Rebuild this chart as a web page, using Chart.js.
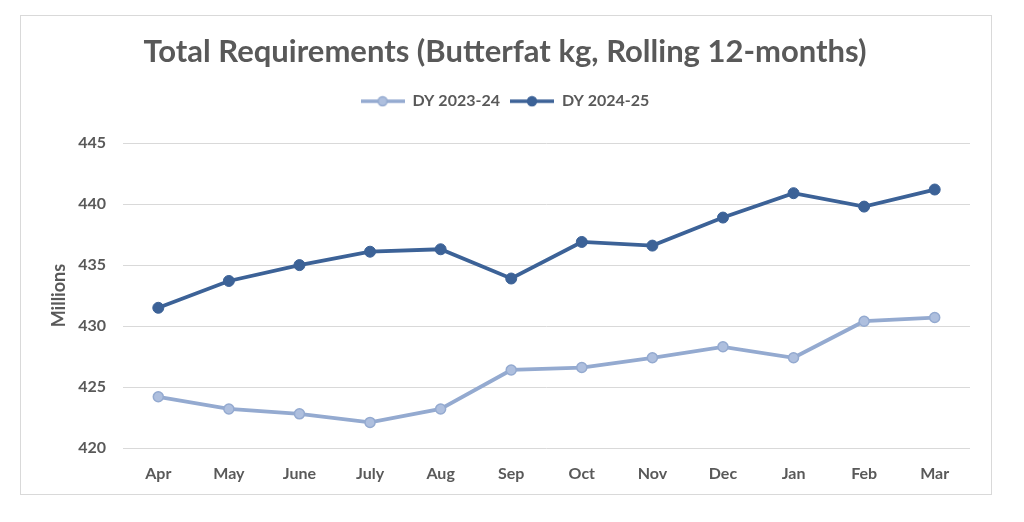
<!DOCTYPE html>
<html>
<head>
<meta charset="utf-8">
<script src="https://cdn.jsdelivr.net/npm/chart.js@4"></script>
<style>
  html, body { margin: 0; padding: 0; background: #ffffff; }
  #wrap { position: relative; width: 1024px; height: 522px; }
  #frame { position: absolute; left: 20px; top: 15px; width: 972px; height: 480px; border: 1px solid #d9d9d9; box-sizing: border-box; }
  canvas { position: absolute; left: 0; top: 0; }
</style>
</head>
<body>
<div id="wrap">
  <div id="frame"></div>
  <canvas id="c" width="1024" height="522"></canvas>
</div>
<script>
const categories = ['Apr', 'May', 'June', 'July', 'Aug', 'Sep', 'Oct', 'Nov', 'Dec', 'Jan', 'Feb', 'Mar'];
const dy2324 = [424.2, 423.2, 422.8, 422.1, 423.2, 426.4, 426.6, 427.4, 428.3, 427.4, 430.4, 430.7];
const dy2425 = [431.5, 433.7, 435.0, 436.1, 436.3, 433.9, 436.9, 436.6, 438.9, 440.9, 439.8, 441.2];
const seriesNames = ['DY 2023-24', 'DY 2024-25'];
const titleText = 'Total Requirements (Butterfat kg, Rolling 12-months)';
const yTitle = 'Millions';

const lightLine = '#94aad0';
const lightFill = '#aebfde';
const darkLine = '#3c6297';
const textColor = '#595959';
const FONT = 'Lato, "Open Sans", sans-serif';

function legendMarker(lineColor, fillColor, borderColor) {
  const cv = document.createElement('canvas');
  cv.width = 44; cv.height = 12;
  const g = cv.getContext('2d');
  g.strokeStyle = lineColor; g.lineWidth = 3.5;
  g.beginPath(); g.moveTo(0, 6); g.lineTo(44, 6); g.stroke();
  g.fillStyle = fillColor; g.strokeStyle = borderColor; g.lineWidth = 1.5;
  g.beginPath(); g.arc(22, 6, 4.5, 0, Math.PI * 2); g.fill(); g.stroke();
  return cv;
}
const markers = [legendMarker(lightLine, lightFill, lightLine), legendMarker(darkLine, darkLine, darkLine)];

const legendGap = {
  id: 'legendGap',
  beforeLayout(chart) {
    const lg = chart.legend;
    if (lg && !lg._gapPatched) {
      const orig = lg.fit;
      lg.fit = function () { orig.call(this); this.height += 24; };
      lg._gapPatched = true;
    }
  }
};

new Chart(document.getElementById('c'), {
  type: 'line',
  data: {
    labels: categories,
    datasets: [
      {
        label: seriesNames[0], data: dy2324,
        borderColor: lightLine, borderWidth: 3.8,
        pointRadius: 5, pointBackgroundColor: lightFill, pointBorderColor: lightLine, pointBorderWidth: 1.5,
        tension: 0
      },
      {
        label: seriesNames[1], data: dy2425,
        borderColor: darkLine, borderWidth: 3.8,
        pointRadius: 5.5, pointBackgroundColor: darkLine, pointBorderColor: darkLine, pointBorderWidth: 1,
        tension: 0
      }
    ]
  },
  plugins: [legendGap],
  options: {
    responsive: false,
    animation: false,
    devicePixelRatio: 1,
    layout: { padding: { left: 40, right: 54, top: 0, bottom: 0 } },
    plugins: {
      tooltip: { enabled: false },
      title: {
        display: true, text: titleText, color: textColor,
        font: { family: FONT, size: 31, weight: 'bold' },
        padding: { top: 33, bottom: 13 }
      },
      legend: {
        display: true, position: 'top',
        labels: {
          color: textColor,
          font: { family: FONT, size: 16, weight: 'bold' },
          usePointStyle: true, pointStyleWidth: 44, boxHeight: 12,
          padding: 10,
          generateLabels(chart) {
            const items = Chart.defaults.plugins.legend.labels.generateLabels(chart);
            items.forEach((it, i) => { it.pointStyle = markers[i]; });
            return items;
          }
        }
      }
    },
    scales: {
      x: {
        offset: true,
        grid: { display: false },
        border: { display: false },
        ticks: { color: textColor, font: { family: FONT, size: 16, weight: 'bold' }, padding: 8 },
        afterFit(s) { s.height = 74; }
      },
      y: {
        min: 420, max: 445,
        ticks: { stepSize: 5, color: textColor, font: { family: FONT, size: 16, weight: 'bold' }, padding: 17 },
        grid: { color: '#d9d9d9', lineWidth: 1, drawTicks: false },
        border: { display: false },
        title: { display: true, text: yTitle, color: textColor, font: { family: FONT, size: 18, weight: 'bold' }, padding: { top: 8, bottom: 0 } },
        afterFit(s) { s.width = 83; }
      }
    }
  }
});
</script>
</body>
</html>
